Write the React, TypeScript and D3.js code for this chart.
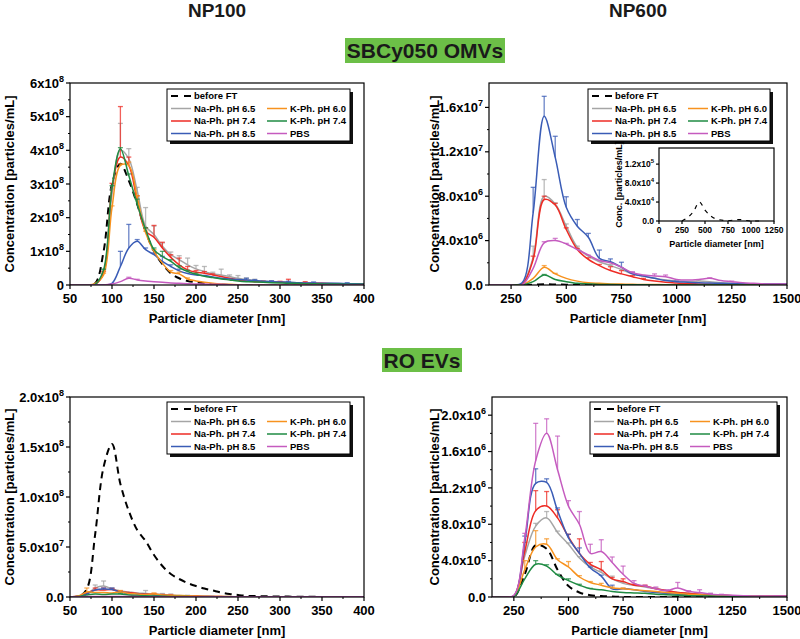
import React, { useEffect, useRef } from 'react';
import * as d3 from 'd3';

const FONT = "'Liberation Sans', Arial, sans-serif";
const NARROW = "'Liberation Sans Narrow', 'Arial Narrow', 'Liberation Sans', Arial, sans-serif";

const seriesNames = ['before FT', 'Na-Ph. pH 6.5', 'Na-Ph. pH 7.4', 'Na-Ph. pH 8.5', 'K-Ph. pH 6.0', 'K-Ph. pH 7.4', 'PBS'];
const seriesColors = ['#000000', '#a5a5a5', '#ee2b24', '#3a5cb6', '#f7921e', '#1f8b43', '#c55bbf'];

// particle diameters (nm)
const xSmall = [50, 60, 70, 80, 90, 100, 110, 120, 130, 140, 150, 160, 170, 180, 190, 200, 210, 220, 230, 240, 250, 260, 270, 280, 290, 300, 310, 320, 330, 340, 350, 360, 370, 380, 390, 400];
const xLarge = [150, 200, 250, 300, 350, 400, 450, 500, 550, 600, 650, 700, 750, 800, 850, 900, 950, 1000, 1050, 1100, 1150, 1200, 1250, 1300, 1350, 1400, 1450, 1500];

// SBCy050 OMVs, NP100 (x1e8 particles/mL)
const omvS_before = [0, 0, 0, 0.05, 1.0, 3.0, 3.6, 3.1, 2.4, 1.6, 1.0, 0.62, 0.35, 0.2, 0.12, 0.08, 0.05, 0.02, 0.01, 0, 0, 0, 0, 0, 0, 0, 0, 0, 0, 0, 0, 0, 0, 0, 0, 0];
const omvS_na65 = [0, 0, 0, 0.02, 0.4, 2.7, 4.0, 3.75, 2.8, 1.75, 1.5, 1.15, 0.9, 0.75, 0.6, 0.48, 0.4, 0.33, 0.3, 0.25, 0.2, 0.16, 0.13, 0.11, 0.1, 0.09, 0.08, 0.07, 0.06, 0.06, 0.05, 0.05, 0.04, 0.04, 0.03, 0.03];
const omvS_na74 = [0, 0, 0, 0.02, 0.35, 2.9, 3.8, 3.55, 2.5, 1.6, 1.42, 1.1, 0.82, 0.6, 0.45, 0.38, 0.35, 0.3, 0.25, 0.2, 0.15, 0.12, 0.1, 0.09, 0.08, 0.08, 0.07, 0.06, 0.05, 0.05, 0.05, 0.04, 0.04, 0.03, 0.03, 0.03];
const omvS_na85 = [0, 0, 0, 0, 0, 0.05, 0.55, 1.1, 1.3, 1.05, 0.9, 0.7, 0.55, 0.42, 0.34, 0.3, 0.28, 0.24, 0.2, 0.18, 0.16, 0.15, 0.13, 0.11, 0.1, 0.09, 0.08, 0.07, 0.06, 0.06, 0.05, 0.05, 0.05, 0.04, 0.04, 0.03];
const omvS_k60 = [0, 0, 0, 0.05, 0.3, 2.3, 3.55, 3.55, 2.6, 1.55, 1.0, 0.65, 0.38, 0.33, 0.18, 0.12, 0.08, 0.05, 0.03, 0.02, 0.01, 0, 0, 0, 0, 0, 0, 0, 0, 0, 0, 0, 0, 0, 0, 0];
const omvS_k74 = [0, 0, 0, 0.02, 0.45, 2.9, 4.05, 3.25, 2.4, 1.65, 1.05, 0.85, 0.7, 0.52, 0.4, 0.32, 0.26, 0.22, 0.18, 0.15, 0.12, 0.1, 0.09, 0.08, 0.07, 0.06, 0.05, 0.05, 0.04, 0.04, 0.03, 0.03, 0.03, 0.02, 0.02, 0.02];
const omvS_pbs = [0, 0, 0, 0, 0, 0.03, 0.1, 0.2, 0.15, 0.12, 0.1, 0.08, 0.06, 0.05, 0.04, 0.03, 0.03, 0.02, 0.02, 0.01, 0, 0, 0, 0, 0, 0, 0, 0, 0, 0, 0, 0, 0, 0, 0, 0];
// upper error bars [diameter, error]
const omvS_na65Err = [[90, 0.05], [100, 0.15], [110, 0.8], [120, 0.3], [130, 0.1], [140, 0.55], [150, 0.25], [160, 0.1], [170, 0.08], [180, 0.12], [190, 0.2], [200, 0.1], [210, 0.15], [220, 0.05], [230, 0.17], [240, 0.05], [250, 0.08], [260, 0.05], [270, 0.04]];
const omvS_na74Err = [[90, 0.05], [100, 0.12], [110, 1.5], [120, 0.25], [130, 0.15], [140, 0.1], [150, 0.35], [160, 0.17], [170, 0.08], [180, 0.2], [190, 0.1], [200, 0.05], [210, 0.05], [220, 0.03], [280, 0.03], [290, 0.03], [300, 0.03], [310, 0.1], [330, 0.05]];
const omvS_na85Err = [[110, 0.45], [120, 0.7], [130, 0.05], [140, 0.05], [150, 0.05], [160, 0.15], [170, 0.05], [180, 0.05], [260, 0.05], [270, 0.03], [290, 0.03], [310, 0.03], [340, 0.03], [380, 0.03]];
const omvS_k60Err = [[90, 0.05], [100, 0.05], [110, 0.05], [120, 0.1], [130, 0.05], [140, 0.05], [150, 0.05], [170, 0.05], [180, 0.05], [190, 0.03]];
const omvS_k74Err = [[90, 0.02], [100, 0.05], [110, 0.03], [120, 0.05], [130, 0.15], [140, 0.05], [150, 0.05], [160, 0.15], [170, 0.05], [180, 0.05], [190, 0.04], [200, 0.03]];
const omvS_pbsErr = [[120, 0.03], [130, 0.02]];

// SBCy050 OMVs, NP600 (x1e6 particles/mL)
const omvL_before = [0, 0, 0, 0, 0.02, 0.06, 0.05, 0.03, 0.02, 0.02, 0.01, 0.01, 0.01, 0, 0, 0, 0, 0, 0, 0, 0, 0, 0, 0, 0, 0, 0, 0];
const omvL_na65 = [0, 0, 0, 0.1, 2.5, 8.0, 7.3, 5.3, 3.4, 2.6, 2.1, 1.75, 1.4, 1.0, 0.8, 0.6, 0.45, 0.35, 0.3, 0.35, 0.3, 0.2, 0.15, 0.12, 0.1, 0.08, 0.07, 0.06];
const omvL_na74 = [0, 0, 0, 0.05, 2.3, 7.7, 7.2, 5.0, 3.2, 2.3, 1.75, 1.3, 1.0, 0.75, 0.5, 0.35, 0.25, 0.18, 0.12, 0.1, 0.08, 0.07, 0.06, 0.05, 0.05, 0.04, 0.04, 0.03];
const omvL_na85 = [0, 0, 0, 0.2, 6.5, 15.2, 11.5, 7.0, 5.3, 4.3, 2.4, 2.1, 1.6, 1.0, 0.8, 0.6, 0.4, 0.3, 0.25, 0.2, 0.18, 0.15, 0.13, 0.12, 0.1, 0.1, 0.1, 0.1];
const omvL_k60 = [0, 0, 0, 0.02, 0.6, 1.6, 1.0, 0.6, 0.35, 0.2, 0.15, 0.1, 0.08, 0.06, 0.05, 0.04, 0.03, 0.03, 0.02, 0.02, 0.02, 0.01, 0.01, 0.01, 0.01, 0.01, 0.01, 0.01];
const omvL_k74 = [0, 0, 0, 0, 0.3, 0.9, 0.5, 0.3, 0.15, 0.1, 0.05, 0.04, 0.03, 0.02, 0.02, 0.01, 0.01, 0, 0, 0, 0, 0, 0, 0, 0, 0, 0, 0];
const omvL_pbs = [0, 0, 0, 0, 1.5, 3.8, 4.0, 3.7, 3.2, 2.7, 2.2, 2.0, 1.6, 1.1, 0.9, 0.8, 0.75, 0.5, 0.45, 0.5, 0.6, 0.4, 0.3, 0.2, 0.15, 0.1, 0.1, 0.1];
const omvL_na65Err = [[350, 1.0], [400, 1.5], [450, 0.1], [500, 0.2], [550, 0.1], [600, 0.1], [650, 0.1], [700, 0.1], [1100, 0.1]];
const omvL_na74Err = [[350, 0.3], [400, 0.3], [450, 0.15], [500, 0.15], [550, 0.1], [600, 0.15], [650, 0.1], [700, 0.35], [750, 0.3], [800, 0.1], [850, 0.1]];
const omvL_na85Err = [[350, 2.3], [400, 1.8], [450, 1.9], [500, 0.95], [550, 0.6], [600, 0.35], [650, 0.75], [700, 0.25], [750, 0.45], [800, 0.1], [850, 0.05], [1000, 0.05]];
const omvL_k60Err = [[400, 0.15], [450, 0.05]];
const omvL_k74Err = [[400, 0.05]];
const omvL_pbsErr = [[400, 0.1], [450, 0.2], [500, 0.05], [800, 0.1], [900, 0.2], [950, 0.15], [1150, 0.05], [1250, 0.05]];

// inset: before FT only (x1e4 particles/mL)
const insetX = [250, 375, 440, 500, 625, 750, 875, 1000, 1125];
const insetBefore = [0, 2.0, 4.0, 2.3, 0.4, 0.1, 0.3, 0, 0];

// RO EVs, NP100 (x1e7 particles/mL)
const evS_before = [0, 0, 0.8, 6.3, 13.0, 15.3, 11.3, 8.6, 6.7, 5.6, 4.2, 3.1, 2.3, 1.8, 1.4, 1.1, 0.85, 0.65, 0.45, 0.3, 0.2, 0.12, 0.1, 0.08, 0.06, 0.05, 0.04, 0.03, 0.02, 0.02, 0.01, 0.01, 0, 0, 0, 0];
const evS_na65 = [0, 0.1, 0.3, 0.9, 1.1, 0.8, 0.6, 0.5, 0.4, 0.35, 0.3, 0.25, 0.2, 0.15, 0.12, 0.1, 0.08, 0.06, 0.05, 0.04, 0.03, 0.02, 0.02, 0.02, 0.02, 0.02, 0.02, 0.02, 0.02, 0.02, 0.02, 0.02, 0.02, 0.02, 0.02, 0.02];
const evS_na74 = [0, 0.1, 0.4, 0.7, 0.7, 0.75, 0.5, 0.45, 0.35, 0.3, 0.25, 0.2, 0.15, 0.12, 0.1, 0.08, 0.06, 0.05, 0.04, 0.03, 0.03, 0.02, 0.02, 0.02, 0.02, 0.02, 0.02, 0.02, 0.02, 0.02, 0.02, 0.02, 0.02, 0.02, 0.02, 0.02];
const evS_na85 = [0, 0.05, 0.3, 0.7, 0.8, 0.75, 0.5, 0.35, 0.3, 0.25, 0.2, 0.15, 0.12, 0.1, 0.08, 0.06, 0.05, 0.04, 0.03, 0.03, 0.02, 0.02, 0.02, 0.02, 0.02, 0.02, 0.02, 0.02, 0.02, 0.02, 0.02, 0.02, 0.02, 0.02, 0.02, 0.02];
const evS_k60 = [0, 0.1, 0.5, 0.45, 0.45, 0.4, 0.5, 0.35, 0.3, 0.25, 0.3, 0.2, 0.18, 0.15, 0.12, 0.1, 0.08, 0.06, 0.05, 0.04, 0.03, 0.03, 0.02, 0.02, 0.02, 0.02, 0.02, 0.02, 0.02, 0.02, 0.02, 0.02, 0.02, 0.02, 0.02, 0.02];
const evS_k74 = [0, 0.05, 0.2, 0.3, 0.25, 0.3, 0.3, 0.2, 0.15, 0.12, 0.1, 0.08, 0.06, 0.05, 0.04, 0.03, 0.03, 0.02, 0.02, 0.02, 0.02, 0.02, 0.02, 0.02, 0.02, 0.02, 0.02, 0.02, 0.02, 0.02, 0.02, 0.02, 0.02, 0.02, 0.02, 0.02];
const evS_pbs = [0, 0.02, 0.05, 0.05, 0.05, 0.05, 0.05, 0.04, 0.04, 0.03, 0.03, 0.03, 0.02, 0.02, 0.02, 0.02, 0.02, 0.02, 0.02, 0.02, 0.02, 0.02, 0.02, 0.02, 0.02, 0.02, 0.02, 0.02, 0.02, 0.02, 0.02, 0.02, 0.02, 0.02, 0.02, 0.02];
const evS_na65Err = [[80, 0.3], [90, 0.5], [100, 0.1], [140, 0.3], [160, 0.1], [170, 0.1], [190, 0.05]];
const evS_na74Err = [[80, 0.2], [90, 0.2], [100, 0.1], [110, 0.1], [150, 0.1], [160, 0.05], [170, 0.05], [200, 0.05]];
const evS_na85Err = [[90, 0.1], [100, 0.15]];
const evS_k60Err = [[70, 0.4], [110, 0.15], [150, 0.1]];
const evS_k74Err = [[110, 0.05]];
const evS_pbsErr = [];

// RO EVs, NP600 (x1e5 particles/mL)
const evL_before = [0, 0, 0, 2.5, 5.7, 5.3, 3.0, 1.2, 0.5, 0.2, 0.1, 0.05, 0, 0, 0, 0, 0, 0, 0, 0, 0, 0, 0, 0, 0, 0, 0, 0];
const evL_na65 = [0, 0, 0.1, 4.5, 7.8, 8.7, 7.1, 5.8, 4.3, 3.3, 2.7, 2.0, 1.5, 1.3, 1.1, 0.9, 0.7, 0.5, 0.4, 0.3, 0.25, 0.2, 0.15, 0.12, 0.1, 0.1, 0.1, 0.1];
const evL_na74 = [0, 0, 0.1, 5.0, 9.5, 10.0, 8.7, 6.6, 4.8, 3.6, 3.0, 2.0, 1.7, 1.3, 1.2, 0.9, 0.7, 0.5, 0.4, 0.3, 0.25, 0.2, 0.15, 0.12, 0.1, 0.1, 0.1, 0.1];
const evL_na85 = [0, 0, 0.1, 6.0, 12.5, 12.6, 9.5, 6.5, 4.8, 3.2, 2.3, 0.9, 0.9, 0.8, 0.6, 0.5, 0.4, 0.3, 0.25, 0.2, 0.15, 0.12, 0.1, 0.1, 0.1, 0.08, 0.08, 0.05];
const evL_k60 = [0, 0, 0.1, 3.0, 5.5, 5.8, 4.1, 3.3, 2.2, 1.6, 1.3, 1.0, 0.9, 0.8, 0.7, 0.6, 0.5, 0.4, 0.3, 0.25, 0.2, 0.15, 0.12, 0.1, 0.1, 0.08, 0.06, 0.05];
const evL_k74 = [0, 0, 0.05, 2.0, 3.6, 3.4, 2.4, 1.8, 1.3, 0.9, 0.8, 0.6, 0.5, 0.45, 0.4, 0.3, 0.25, 0.2, 0.15, 0.12, 0.1, 0.08, 0.06, 0.05, 0.05, 0.04, 0.03, 0.03];
const evL_pbs = [0, 0, 0.2, 6.5, 15.0, 18.0, 14.0, 10.0, 8.0, 4.8, 5.0, 3.8, 2.5, 1.5, 1.2, 0.9, 0.7, 1.0, 0.6, 0.5, 0.3, 0.25, 0.2, 0.15, 0.1, 0.1, 0.1, 0.1];
const evL_na65Err = [[350, 0.3], [400, 0.7], [450, 0.15], [500, 0.15], [550, 0.15], [600, 0.15], [650, 0.25], [700, 0.3], [750, 0.15], [800, 0.1], [850, 0.1], [900, 0.1], [1150, 0.15]];
const evL_na74Err = [[300, 1.0], [350, 2.2], [400, 1.6], [450, 0.9], [500, 0.3], [550, 1.6], [600, 0.2], [650, 0.9], [700, 0.15], [750, 0.3], [800, 0.1], [850, 0.1]];
const evL_na85Err = [[300, 0.7], [350, 1.6], [400, 0.4], [450, 0.3], [500, 0.4], [550, 0.6], [600, 0.1], [650, 0.1], [700, 0.4], [750, 0.05]];
const evL_k60Err = [[300, 1.0], [350, 1.8], [400, 0.6], [450, 0.1], [500, 0.6], [550, 0.15], [600, 0.1], [650, 0.2], [700, 0.1], [750, 0.1]];
const evL_k74Err = [[350, 0.4], [400, 0.15], [450, 0.1], [500, 0.2], [550, 0.1], [600, 0.05]];
const evL_pbsErr = [[300, 0.5], [350, 4.1], [400, 1.6], [450, 3.7], [500, 0.6], [550, 1.4], [600, 1.0], [650, 1.3], [700, 0.6], [750, 0.9], [800, 0.3], [850, 0.1], [900, 0.2], [950, 0.1], [1000, 0.6], [1050, 0.1], [1100, 0.3], [1150, 0.1], [1200, 0.05]];

// axis ticks
const xTicksSmall = [50, 100, 150, 200, 250, 300, 350, 400];
const xMinorSmall = [75, 125, 175, 225, 275, 325, 375];
const xTicksLarge = [250, 500, 750, 1000, 1250, 1500];
const xMinorLarge = [375, 625, 875, 1125, 1375];
const yTicksOmvS = [0, 1, 2, 3, 4, 5, 6];
const yLabelsOmvS = [['0', ''], ['1x10', '8'], ['2x10', '8'], ['3x10', '8'], ['4x10', '8'], ['5x10', '8'], ['6x10', '8']];
const yTicksOmvL = [0, 4, 8, 12, 16];
const yLabelsOmvL = [['0.0', ''], ['4.0x10', '6'], ['8.0x10', '6'], ['1.2x10', '7'], ['1.6x10', '7']];
const yTicksEvS = [0, 5, 10, 15, 20];
const yLabelsEvS = [['0.0', ''], ['5.0x10', '7'], ['1.0x10', '8'], ['1.5x10', '8'], ['2.0x10', '8']];
const yTicksEvL = [0, 4, 8, 12, 16, 20];
const yLabelsEvL = [['0.0', ''], ['4.0x10', '5'], ['8.0x10', '5'], ['1.2x10', '6'], ['1.6x10', '6'], ['2.0x10', '6']];
const xTicksInset = [0, 250, 500, 750, 1000, 1250];
const yTicksInset = [0, 4, 8, 12];
const yLabelsInset = [['0.0', ''], ['4.0x10', '4'], ['8.0x10', '4'], ['1.2x10', '5']];

type Sel = d3.Selection<any, any, any, any>;

function drawPanel(root: Sel, p: any) {
  const x = d3.scaleLinear().domain(p.xDomain).range([p.left, p.right]);
  const y = d3.scaleLinear().domain(p.yDomain).range([p.bottom, p.top]);
  const clipId = 'clip-' + p.id;
  root.append('clipPath').attr('id', clipId).append('rect')
    .attr('x', p.left).attr('y', p.top - 1).attr('width', p.right - p.left).attr('height', p.bottom - p.top + 1);

  const g = root.append('g').attr('clip-path', `url(#${clipId})`);
  const line = d3.line<number[]>().x(d => x(d[0])).y(d => y(Math.max(0, d[1]))).curve(d3.curveCatmullRom.alpha(0.5));
  const order = [0, 1, 2, 3, 4, 5, 6];
  order.forEach(i => {
    const vals: number[] = p.series[i];
    const pts = vals.map((v, j) => [p.xs[j], v]);
    const col = seriesColors[i];
    // error bars
    (p.errs[i] || []).forEach((e: number[]) => {
      const j = p.xs.indexOf(e[0]);
      if (j < 0) return;
      const v = vals[j];
      const px = x(e[0]);
      g.append('line').attr('x1', px).attr('x2', px).attr('y1', y(v)).attr('y2', y(v + e[1]))
        .attr('stroke', col).attr('stroke-width', 1.3).attr('opacity', 0.75);
      g.append('line').attr('x1', px - 2.5).attr('x2', px + 2.5).attr('y1', y(v + e[1])).attr('y2', y(v + e[1]))
        .attr('stroke', col).attr('stroke-width', 1.3).attr('opacity', 0.75);
    });
    g.append('path').datum(pts).attr('d', line).attr('fill', 'none').attr('stroke', col)
      .attr('stroke-width', i === 0 ? 2 : 1.5)
      .attr('stroke-dasharray', i === 0 ? '7,5' : null);
  });

  drawFrame(root, p, x, y, 13, 9);

  // axis titles
  root.append('text').attr('x', (p.left + p.right) / 2).attr('y', p.bottom + 38)
    .attr('text-anchor', 'middle').attr('font-family', FONT).attr('font-weight', 'bold').attr('font-size', 13)
    .text('Particle diameter [nm]');
  root.append('text').attr('transform', `translate(${p.yTitleX},${(p.top + p.bottom) / 2}) rotate(-90)`)
    .attr('text-anchor', 'middle').attr('dy', '0.35em').attr('font-family', FONT).attr('font-weight', 'bold').attr('font-size', 13)
    .text('Concentration [particles/mL]');
}

function drawFrame(root: Sel, p: any, x: any, y: any, fs: number, sup: number) {
  root.append('rect').attr('x', p.left).attr('y', p.top).attr('width', p.right - p.left).attr('height', p.bottom - p.top)
    .attr('fill', 'none').attr('stroke', '#000').attr('stroke-width', 1.2);
  const major = fs > 10 ? 4 : 3;
  const ax = root.append('g').attr('font-family', FONT).attr('font-weight', 'bold').attr('font-size', fs);
  p.xTicks.forEach((t: number) => {
    ax.append('line').attr('x1', x(t)).attr('x2', x(t)).attr('y1', p.bottom).attr('y2', p.bottom + major).attr('stroke', '#000').attr('stroke-width', 1.2);
    ax.append('text').attr('x', x(t)).attr('y', p.bottom + (fs > 10 ? 18 : 12)).attr('text-anchor', 'middle').text(String(t));
  });
  (p.xMinor || []).forEach((t: number) => {
    ax.append('line').attr('x1', x(t)).attr('x2', x(t)).attr('y1', p.bottom).attr('y2', p.bottom + major / 2).attr('stroke', '#000');
  });
  p.yTicks.forEach((t: number, k: number) => {
    ax.append('line').attr('x1', p.left - major).attr('x2', p.left).attr('y1', y(t)).attr('y2', y(t)).attr('stroke', '#000').attr('stroke-width', 1.2);
    const lab = p.yLabels[k];
    const txt = ax.append('text').attr('x', p.left - major - 2).attr('y', y(t) + fs * 0.36).attr('text-anchor', 'end');
    txt.append('tspan').text(lab[0]);
    if (lab[1]) txt.append('tspan').attr('dy', -fs * 0.45).attr('font-size', sup).text(lab[1]);
  });
  (p.yMinor || []).forEach((t: number) => {
    ax.append('line').attr('x1', p.left - major / 2).attr('x2', p.left).attr('y1', y(t)).attr('y2', y(t)).attr('stroke', '#000');
  });
}

function drawLegend(root: Sel, lx: number, ly: number, w: number) {
  const h = 52;
  root.append('rect').attr('x', lx + 3).attr('y', ly + 3).attr('width', w).attr('height', h).attr('fill', '#111');
  root.append('rect').attr('x', lx).attr('y', ly).attr('width', w).attr('height', h).attr('fill', '#fff').attr('stroke', '#000').attr('stroke-width', 1);
  const pos = [[0, 0], [0, 1], [0, 2], [0, 3], [1, 1], [1, 2], [1, 3]];
  const rowY = [7, 19.5, 32, 44.5];
  const colX = [4, 100];
  seriesNames.forEach((name, i) => {
    const cx = lx + colX[pos[i][0]];
    const cy = ly + rowY[pos[i][1]];
    root.append('line').attr('x1', cx).attr('x2', cx + 20).attr('y1', cy).attr('y2', cy)
      .attr('stroke', seriesColors[i]).attr('stroke-width', i === 0 ? 2 : 1.5)
      .attr('stroke-dasharray', i === 0 ? '7,6' : null);
    root.append('text').attr('x', cx + 23).attr('y', cy + 3.3).attr('font-family', FONT).attr('font-weight', 'bold')
      .attr('font-size', 9.5).text(name);
  });
}

function drawInset(root: Sel) {
  const p = { left: 659, right: 774, top: 148, bottom: 221, xTicks: xTicksInset, yTicks: yTicksInset, yLabels: yLabelsInset };
  const x = d3.scaleLinear().domain([0, 1250]).range([p.left, p.right]);
  const y = d3.scaleLinear().domain([0, 15.4]).range([p.bottom, p.top]);
  root.append('rect').attr('x', p.left).attr('y', p.top).attr('width', p.right - p.left).attr('height', p.bottom - p.top).attr('fill', '#fff');
  const line = d3.line<number[]>().x(d => x(d[0])).y(d => y(d[1])).curve(d3.curveMonotoneX);
  root.append('path').datum(insetX.map((v, j) => [v, insetBefore[j]])).attr('d', line)
    .attr('fill', 'none').attr('stroke', '#000').attr('stroke-width', 1.2).attr('stroke-dasharray', '4,5');
  drawFrame(root, p, x, y, 8.5, 6);
  root.append('text').attr('x', (p.left + p.right) / 2).attr('y', p.bottom + 26).attr('text-anchor', 'middle')
    .attr('font-family', FONT).attr('font-weight', 'bold').attr('font-size', 9).text('Particle diameter [nm]');
  root.append('text').attr('transform', `translate(619,${(p.top + p.bottom) / 2}) rotate(-90)`).attr('text-anchor', 'middle')
    .attr('dy', '0.35em').attr('font-family', FONT).attr('font-weight', 'bold').attr('font-size', 9).text('Conc. [particles/mL]');
}

function banner(root: Sel, label: string, x0: number, y0: number, w: number, h: number) {
  root.append('rect').attr('x', x0).attr('y', y0).attr('width', w).attr('height', h).attr('fill', '#6cbf47');
  root.append('text').attr('x', x0 + w / 2).attr('y', y0 + h / 2).attr('dy', '0.36em').attr('text-anchor', 'middle')
    .attr('font-family', NARROW).attr('font-weight', 'bold').attr('font-size', 21).attr('fill', '#1a1a1a').text(label);
}

export default function App() {
  const ref = useRef<SVGSVGElement>(null);
  useEffect(() => {
    const svg = d3.select(ref.current);
    svg.selectAll('*').remove();
    svg.append('rect').attr('width', 800).attr('height', 639).attr('fill', '#fff');

    [['NP100', 217], ['NP600', 638]].forEach(([t, cx]) => {
      svg.append('text').attr('x', cx as number).attr('y', 17).attr('text-anchor', 'middle').attr('font-family', NARROW)
        .attr('font-weight', 'bold').attr('font-size', 19).attr('fill', '#1a1a1a').text(t as string);
    });
    banner(svg, 'SBCy050 OMVs', 345, 38, 160, 25);
    banner(svg, 'RO EVs', 382, 348, 80, 24);

    const panels = [
      {
        id: 'tl', left: 70, right: 364, top: 83, bottom: 285, xDomain: [50, 400], yDomain: [0, 6], xs: xSmall,
        series: [omvS_before, omvS_na65, omvS_na74, omvS_na85, omvS_k60, omvS_k74, omvS_pbs],
        errs: [[], omvS_na65Err, omvS_na74Err, omvS_na85Err, omvS_k60Err, omvS_k74Err, omvS_pbsErr],
        xTicks: xTicksSmall, xMinor: xMinorSmall, yTicks: yTicksOmvS, yLabels: yLabelsOmvS,
        yMinor: [0.5, 1.5, 2.5, 3.5, 4.5, 5.5], yTitleX: 9, legend: [167, 89, 183],
      },
      {
        id: 'tr', left: 489, right: 787, top: 83, bottom: 285, xDomain: [150, 1500], yDomain: [0, 18.2], xs: xLarge,
        series: [omvL_before, omvL_na65, omvL_na74, omvL_na85, omvL_k60, omvL_k74, omvL_pbs],
        errs: [[], omvL_na65Err, omvL_na74Err, omvL_na85Err, omvL_k60Err, omvL_k74Err, omvL_pbsErr],
        xTicks: xTicksLarge, xMinor: xMinorLarge, yTicks: yTicksOmvL, yLabels: yLabelsOmvL,
        yMinor: [2, 6, 10, 14], yTitleX: 434, legend: [588, 89, 182],
      },
      {
        id: 'bl', left: 70, right: 364, top: 397, bottom: 597, xDomain: [50, 400], yDomain: [0, 20], xs: xSmall,
        series: [evS_before, evS_na65, evS_na74, evS_na85, evS_k60, evS_k74, evS_pbs],
        errs: [[], evS_na65Err, evS_na74Err, evS_na85Err, evS_k60Err, evS_k74Err, evS_pbsErr],
        xTicks: xTicksSmall, xMinor: xMinorSmall, yTicks: yTicksEvS, yLabels: yLabelsEvS,
        yMinor: [2.5, 7.5, 12.5, 17.5], yTitleX: 9, legend: [167, 402, 183],
      },
      {
        id: 'br', left: 492, right: 787, top: 397, bottom: 597, xDomain: [150, 1500], yDomain: [0, 22], xs: xLarge,
        series: [evL_before, evL_na65, evL_na74, evL_na85, evL_k60, evL_k74, evL_pbs],
        errs: [[], evL_na65Err, evL_na74Err, evL_na85Err, evL_k60Err, evL_k74Err, evL_pbsErr],
        xTicks: xTicksLarge, xMinor: xMinorLarge, yTicks: yTicksEvL, yLabels: yLabelsEvL,
        yMinor: [2, 6, 10, 14, 18], yTitleX: 434, legend: [590, 402, 187],
      },
    ];
    panels.forEach(p => {
      drawPanel(svg, p);
      drawLegend(svg, p.legend[0], p.legend[1], p.legend[2]);
    });
    drawInset(svg);
  }, []);

  return (
    <svg ref={ref} width={800} height={639} style={{ position: 'absolute', left: 0, top: 0, display: 'block' }} />
  );
}
